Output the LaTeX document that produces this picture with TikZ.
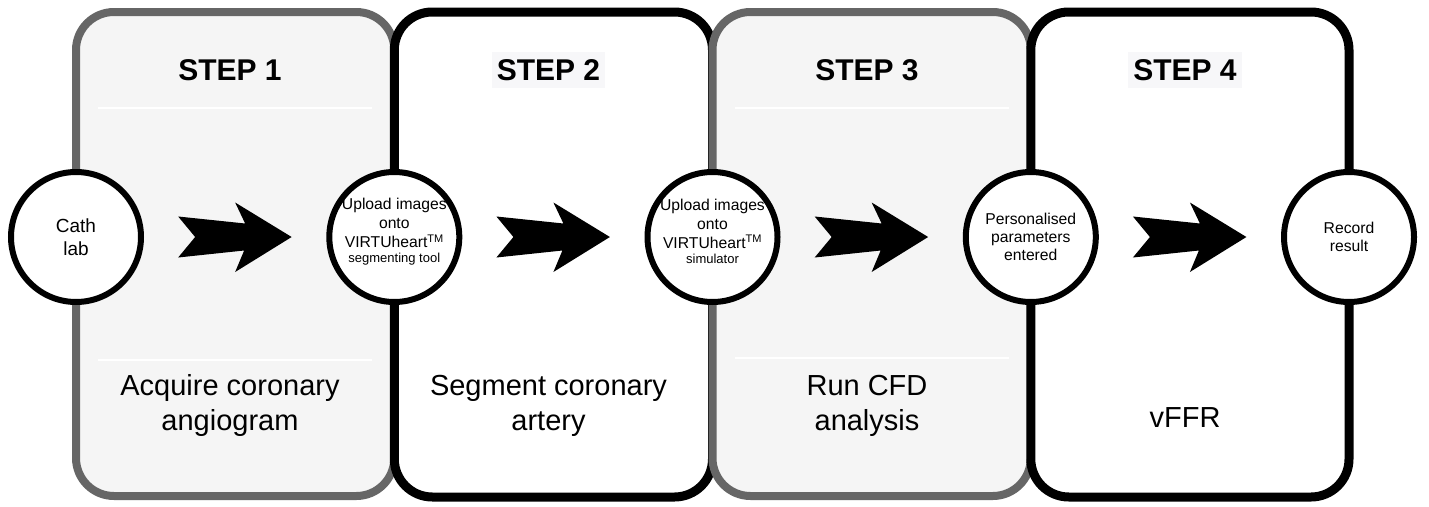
\documentclass[tikz,border=0pt]{standalone}
\usepackage{fontspec}
\setmainfont{Liberation Sans}
\usepackage{tikz}
\usetikzlibrary{calc}
\definecolor{edgegray}{RGB}{102,102,102}
\definecolor{panelgray}{RGB}{245,245,245}
\definecolor{tagbg}{RGB}{247,247,249}

\tikzset{
	graypanel/.style={draw=edgegray, fill=panelgray, line width=8pt, rounded corners=38pt},
	whitepanel/.style={draw=black, fill=white, line width=9pt, rounded corners=38pt},
	rule/.style={white, line width=2pt},
	stepname/.style={font=\fontsize{30}{34}\selectfont\bfseries, inner xsep=5pt, inner ysep=7pt},
	task/.style={font=\fontsize{29}{35}\selectfont, align=center},
	stage/.style={circle, draw=black, fill=white, line width=6pt, minimum size=130pt, inner sep=0pt},
	stagetext/.style={align=center, inner sep=0pt, font=\fontsize{15.7}{19}\selectfont},
	chevron/.pic={
		\fill[black] (-57,-20.5) -- (10,-13.5) -- (0,-34.5) -- (56.5,0) -- (0,35) -- (9,13.5) -- (-57,20.5) -- (-40,0) -- cycle;
	}
}

\begin{document}
\begin{tikzpicture}[x=1pt, y=-1pt]
	\fill[white] (0,0) rectangle (1429,506);
	\useasboundingbox (0,0) rectangle (1429,506);
	
	% panels
	\draw[graypanel] (76,12) rectangle (394.3,496);
	\draw[whitepanel] (394.3,12) rectangle (712.5,497);
	\draw[graypanel] (712.5,12) rectangle (1030.8,496);
	\draw[whitepanel] (1030.8,12) rectangle (1349,497);
	
	\draw[rule] (98,108) -- (372,108);
	\draw[rule] (98,360) -- (372,360);
	\draw[rule] (734.5,108) -- (1008.5,108);
	\draw[rule] (734.5,358) -- (1008.5,358);
	
	\node[stepname] (s1) at (230,70) {STEP 1};
	\node[stepname, fill=tagbg] (s2) at (548.5,70) {STEP 2};
	\node[stepname] (s3) at (867,70) {STEP 3};
	\node[stepname, fill=tagbg] (s4) at (1185,70) {STEP 4};
	
	\node[task] (d1) at (230,405.5) {Acquire coronary\\angiogram};
	\node[task] (d2) at (548.5,405.5) {Segment coronary\\artery};
	\node[task] (d3) at (867,405.5) {Run CFD\\analysis};
	\node[task] (d4) at (1185,417.5) {vFFR};
	
	% circles
	\node[stage] (cath) at (76,237) {};
	\node[stage] (seg) at (394.3,237) {};
	\node[stage] (sim) at (712.5,237) {};
	\node[stage] (par) at (1030.8,237) {};
	\node[stage] (rec) at (1349,237) {};
	
	\node[stagetext, font=\fontsize{19}{23}\selectfont] (cath-t) at (cath) {Cath\\lab};
	\node[stagetext, yshift=5.5pt] (seg-t) at (seg) {Upload images\\onto\\VIRTUheart\textsuperscript{TM}\\[-4pt]{\fontsize{13}{15}\selectfont segmenting tool}};
	\node[stagetext, yshift=6pt] (sim-t) at (sim) {Upload images\\onto\\VIRTUheart\textsuperscript{TM}\\[-4pt]{\fontsize{13}{15}\selectfont simulator}};
	\node[stagetext, font=\fontsize{15.7}{18}\selectfont] (par-t) at (par) {Personalised\\parameters\\entered};
	\node[stagetext, font=\fontsize{15.7}{18}\selectfont] (rec-t) at (rec) {Record\\result};
	
	% arrows
	\pic (a1) at ($(cath)!0.5!(seg)$) {chevron};
	\pic (a2) at ($(seg)!0.5!(sim)$) {chevron};
	\pic (a3) at ($(sim)!0.5!(par)$) {chevron};
	\pic (a4) at ($(par)!0.5!(rec)$) {chevron};
\end{tikzpicture}
\end{document}
